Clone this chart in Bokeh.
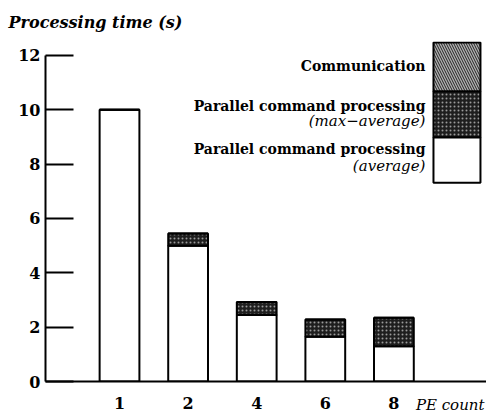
from bokeh.plotting import figure
from bokeh.models import Range1d, FixedTicker, Label, Title
from bokeh.embed import file_html
from bokeh.resources import INLINE

# ---- data ----
pe_counts = ["1", "2", "4", "6", "8"]
avg_time = [10.0, 5.0, 2.45, 1.65, 1.3]          # parallel command processing (average)
max_time = [10.0, 5.45, 2.93, 2.28, 2.35]        # parallel command processing (max)
comm_time = [0.0, 0.0, 0.0, 0.0, 0.0]            # communication
y_ticks = [0, 2, 4, 6, 8, 10, 12]

xs = list(range(1, len(pe_counts) + 1))
top_comm = [m + c for m, c in zip(max_time, comm_time)]

SERIF = "DejaVu Serif"

p = figure(width=486, height=418, output_backend="svg", toolbar_location=None,
           x_range=Range1d(-0.079, 6.35), y_range=Range1d(0, 12.515),
           min_border_left=45, min_border_right=0, min_border_top=41,
           min_border_bottom=37)
p.outline_line_color = None
p.xgrid.visible = False
p.ygrid.visible = False
p.background_fill_color = "white"

DARK = dict(fill_color="#1e1e1e", hatch_pattern="dot", hatch_color="#9a9a9a",
            hatch_scale=4, hatch_weight=1)
HATCH = dict(fill_color="#b0b0b0", hatch_pattern="left_diagonal_line",
             hatch_color="#222222", hatch_scale=5, hatch_weight=1)

bar_w = 0.58
p.vbar(x=xs, bottom=0, top=avg_time, width=bar_w, fill_color="white",
       line_color="black", line_width=2)
p.vbar(x=xs, bottom=avg_time, top=max_time, width=bar_w, line_color="black",
       line_width=2, **DARK)
p.vbar(x=xs, bottom=max_time, top=top_comm, width=bar_w, line_color="black",
       line_width=2, **HATCH)

# axes
xa = p.xaxis[0]
xa.ticker = FixedTicker(ticks=xs)
xa.major_label_overrides = {x: s for x, s in zip(xs, pe_counts)}
xa.major_tick_out = 0
xa.major_tick_in = 0
xa.minor_tick_out = 0
xa.minor_tick_in = 0
xa.axis_line_width = 2
xa.major_label_standoff = 15
xa.major_label_text_font = SERIF
xa.major_label_text_font_style = "bold"
xa.major_label_text_font_size = "16px"
xa.major_label_text_color = "black"

ya = p.yaxis[0]
ya.ticker = FixedTicker(ticks=y_ticks)
ya.bounds = (0, 12)
ya.major_tick_in = 28
ya.major_tick_out = 0
ya.minor_tick_in = 0
ya.minor_tick_out = 0
ya.major_tick_line_width = 2
ya.axis_line_width = 2
ya.major_label_standoff = 5
ya.major_label_text_font = SERIF
ya.major_label_text_font_style = "bold"
ya.major_label_text_font_size = "16px"
ya.major_label_text_color = "black"

# "PE count" caption next to the x axis
p.add_layout(Title(text="PE count", align="right", offset=2, standoff=-32,
                   vertical_align="top", text_font=SERIF, text_font_style="italic",
                   text_font_size="15px", text_color="black"), "below")

# y caption (top-left)
p.add_layout(Title(text="Processing time (s)", align="left", offset=-37,
                   standoff=20, text_font=SERIF, text_font_style="bold italic",
                   text_font_size="16px", text_color="black"), "above")

# custom legend (swatches on the right, labels on the left)
lx0, lx1 = 5.577, 6.262
p.quad(left=[lx0], right=[lx1], bottom=[10.67], top=[12.48], line_color="black",
       line_width=2, **HATCH)
p.quad(left=[lx0], right=[lx1], bottom=[8.98], top=[10.67], line_color="black",
       line_width=2, **DARK)
p.quad(left=[lx0], right=[lx1], bottom=[7.32], top=[8.98], fill_color="white",
       line_color="black", line_width=2)

legend_texts = [
    ("Communication", 11.62, "bold", "14px"),
    ("Parallel command processing", 10.15, "bold", "14px"),
    ("(max\u2212average)", 9.58, "italic", "15px"),
    ("Parallel command processing", 8.57, "bold", "14px"),
    ("(average)", 7.94, "italic", "15px"),
]
for t, yy, st, sz in legend_texts:
    p.add_layout(Label(x=5.46, y=yy, text=t, text_font=SERIF, text_font_style=st,
                       text_font_size=sz, text_align="right", text_baseline="middle",
                       text_color="black"))

open("out.html", "w").write(file_html(p, INLINE))
